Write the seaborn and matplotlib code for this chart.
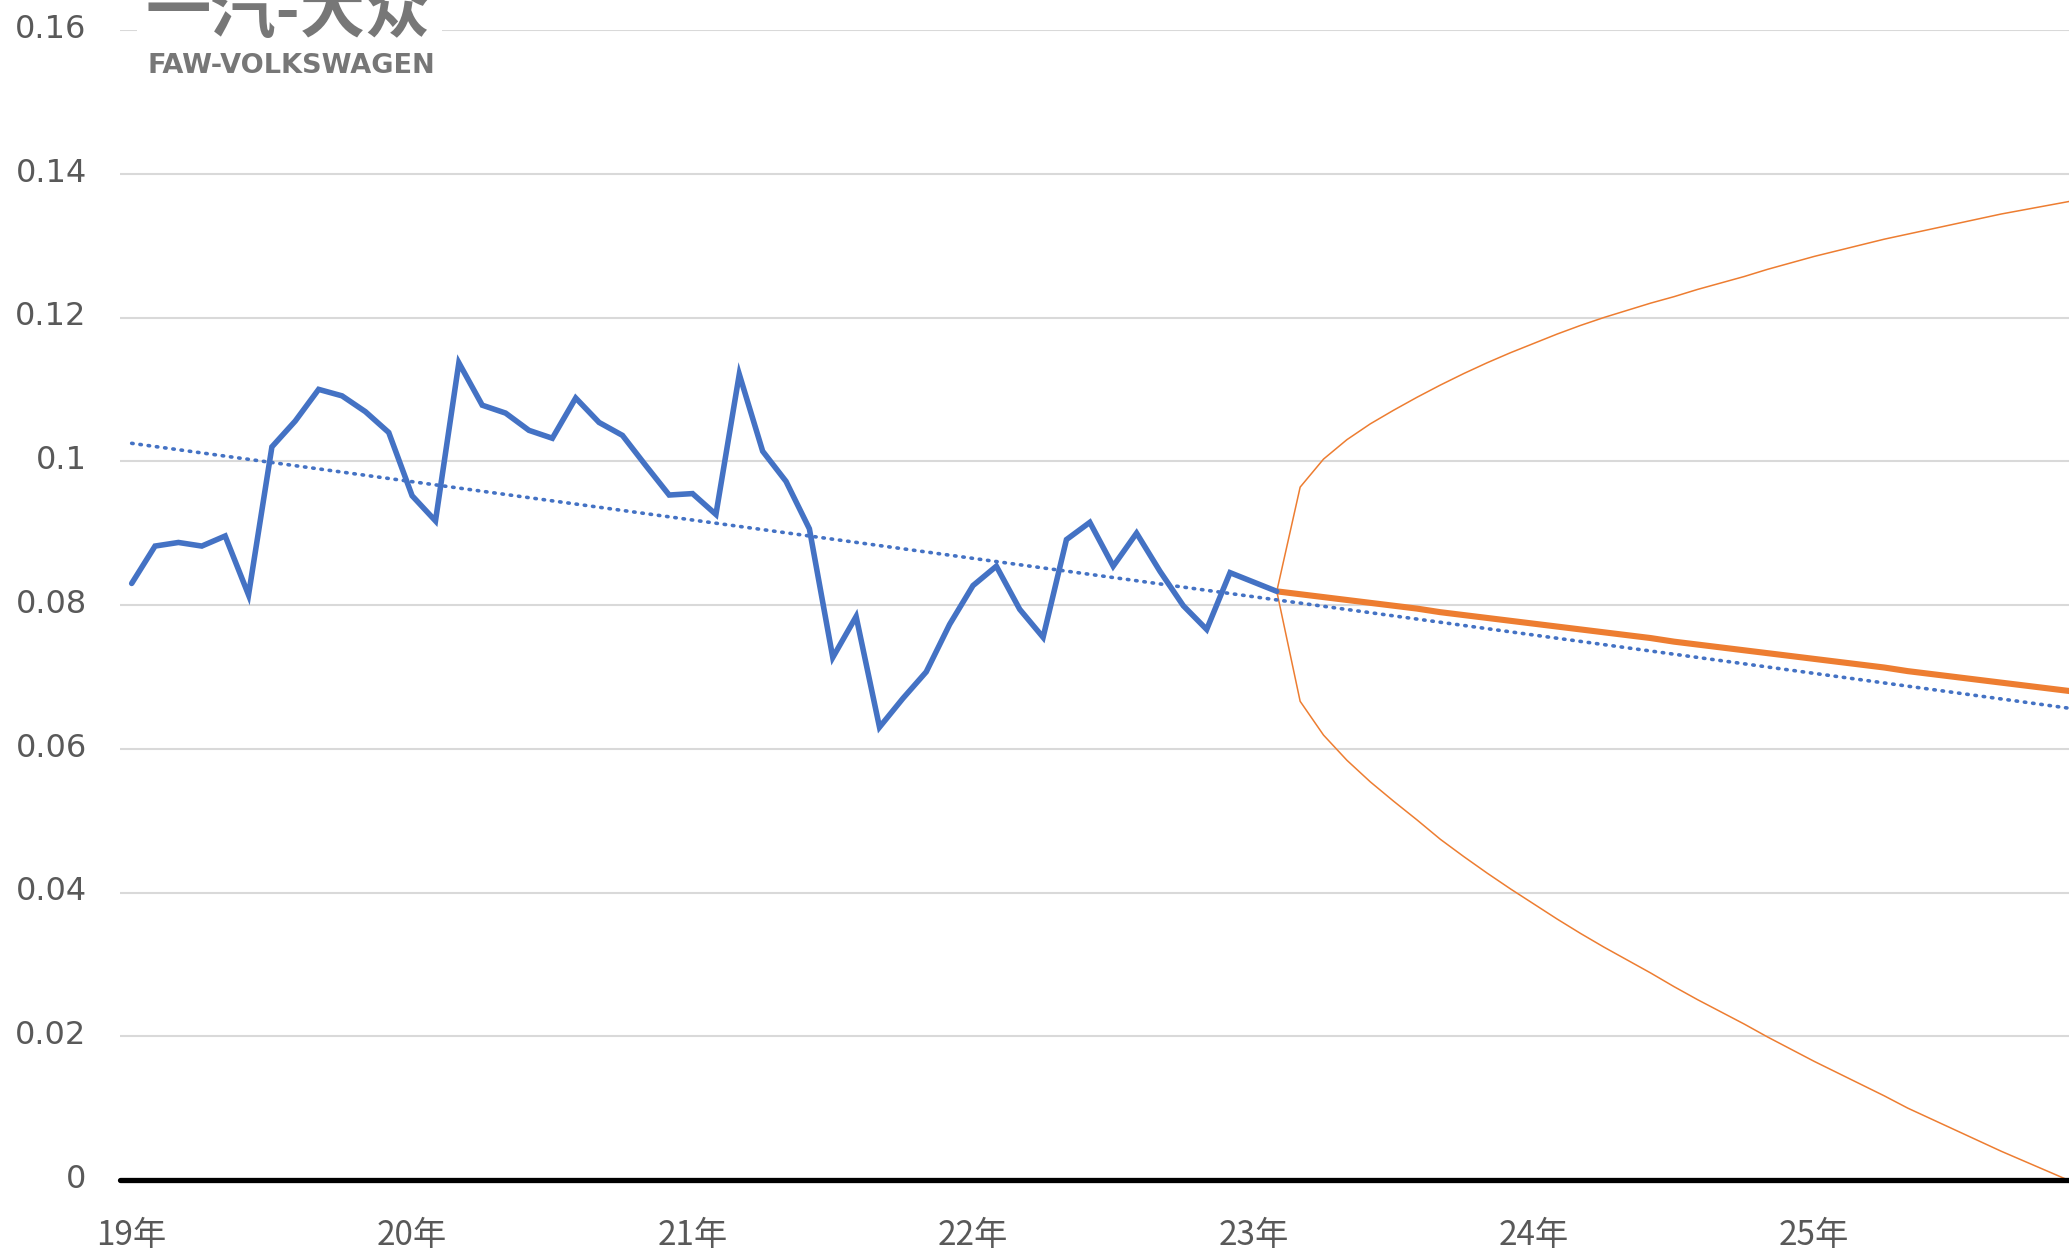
import numpy as np
import pandas as pd
import seaborn as sns
import matplotlib.pyplot as plt
from matplotlib.patches import Rectangle
from matplotlib.transforms import ScaledTranslation

# monthly values, Jan 2019 .. Feb 2023
actual = [0.0830, 0.0882, 0.0887, 0.0882, 0.0896, 0.0814, 0.1020, 0.1056, 0.1100, 0.1091, 0.1069, 0.1040,
          0.0952, 0.0917, 0.1137, 0.1078, 0.1067, 0.1043, 0.1032, 0.1088, 0.1054, 0.1036, 0.0994, 0.0953,
          0.0955, 0.0926, 0.1121, 0.1014, 0.0972, 0.0906, 0.0727, 0.0784, 0.0630, 0.0670, 0.0707, 0.0773,
          0.0827, 0.0854, 0.0794, 0.0755, 0.0891, 0.0915, 0.0854, 0.0900, 0.0847, 0.0799, 0.0766, 0.0845,
          0.0832, 0.0819]

# forecast Feb 2023 .. Dec 2025
forecast = [0.0819, 0.0815, 0.0811, 0.0807, 0.0803, 0.0799, 0.0795, 0.0790, 0.0786, 0.0782, 0.0778, 0.0774,
            0.0770, 0.0766, 0.0762, 0.0758, 0.0754, 0.0749, 0.0745, 0.0741, 0.0737, 0.0733, 0.0729, 0.0725,
            0.0721, 0.0717, 0.0713, 0.0708, 0.0704, 0.0700, 0.0696, 0.0692, 0.0688, 0.0684, 0.0680]
upper = [0.0819, 0.0964, 0.1003, 0.1030, 0.1052, 0.1071, 0.1089, 0.1106, 0.1122, 0.1137, 0.1151, 0.1164,
         0.1177, 0.1189, 0.1200, 0.1210, 0.1220, 0.1229, 0.1239, 0.1248, 0.1257, 0.1267, 0.1276, 0.1285,
         0.1293, 0.1301, 0.1309, 0.1316, 0.1323, 0.1330, 0.1337, 0.1344, 0.1350, 0.1356, 0.1362]
lower = [0.0819, 0.0666, 0.0619, 0.0584, 0.0554, 0.0527, 0.0501, 0.0474, 0.0450, 0.0427, 0.0405, 0.0384,
         0.0363, 0.0343, 0.0324, 0.0306, 0.0288, 0.0269, 0.0251, 0.0234, 0.0217, 0.0199, 0.0182, 0.0165,
         0.0149, 0.0133, 0.0117, 0.0100, 0.0085, 0.0070, 0.0055, 0.0040, 0.0026, 0.0012, -0.0002]

year_labels = ['19年', '20年', '21年', '22年', '23年', '24年', '25年']
y_ticks = [0, 0.02, 0.04, 0.06, 0.08, 0.1, 0.12, 0.14, 0.16]
y_labels = ['0', '0.02', '0.04', '0.06', '0.08', '0.1', '0.12', '0.14', '0.16']

blue = '#4472C4'
orange = '#ED7D31'
grey = '#595959'

sns.set_theme(style='white')
plt.rcParams['font.family'] = ['DejaVu Sans', 'Noto Sans CJK SC']

hist = pd.DataFrame({'m': np.arange(len(actual)), 'v': actual})
fc = pd.DataFrame({'m': np.arange(len(actual) - 1, len(actual) - 1 + len(forecast)),
                   'f': forecast, 'up': upper, 'lo': lower})

fig = plt.figure(figsize=(20.69, 12.52), dpi=100)
ax = fig.add_axes([120 / 2069, 1 - 1180 / 1252, 1 - 120 / 2069, 1150 / 1252])

# linear trend of the history, extended forward
coef = np.polyfit(hist['m'], hist['v'], 1)
tx = np.arange(0, fc['m'].max() + 1)
sns.lineplot(x=tx, y=np.polyval(coef, tx), ax=ax, color=blue, lw=2.6,
             linestyle=(0, (0.4, 1.9)), dash_capstyle='round', zorder=4)

sns.lineplot(data=fc, x='m', y='up', ax=ax, color=orange, lw=1.1, zorder=3)
sns.lineplot(data=fc, x='m', y='lo', ax=ax, color=orange, lw=1.1, zorder=3)
sns.lineplot(data=fc, x='m', y='f', ax=ax, color=orange, lw=4.4, zorder=3,
             solid_capstyle='butt')
sns.lineplot(data=hist, x='m', y='v', ax=ax, color=blue, lw=4.0, zorder=3,
             solid_joinstyle='miter')

ax.axhline(0, color='black', lw=3.8, clip_on=False, zorder=5)

ax.set_xlim(-0.5, 82.9)
ax.set_ylim(0, 0.16)
ax.set_xticks(np.arange(len(year_labels)) * 12)
ax.set_xticklabels(year_labels, family=['Noto Sans CJK SC'], fontsize=24, color=grey)
ax.set_yticks(y_ticks)
ax.set_yticklabels(y_labels, fontsize=23, color=grey)
ax.tick_params(axis='x', length=0, pad=27)
ax.tick_params(axis='y', length=0, pad=24)
ax.grid(axis='y', color='#d9d9d9', lw=1.5)
ax.grid(axis='x', visible=False)
ax.set_xlabel('')
ax.set_ylabel('')
sns.despine(ax=ax, left=True, bottom=True)

# value labels sit a little above their gridline
shift = ScaledTranslation(0, 3 / 72, fig.dpi_scale_trans)
for lab in ax.get_yticklabels():
    lab.set_transform(lab.get_transform() + shift)

# logo watermark in the top-left corner (partly cut off at the top, as in the source)
fig.patches.append(Rectangle((137 / 2069, 1 - 85 / 1252), 305 / 2069, 85 / 1252,
                             transform=fig.transFigure, facecolor='white',
                             edgecolor='none', zorder=6))
fig.text(146 / 2069, 1 - 32 / 1252, '一汽-大众', family=['Noto Sans CJK SC'],
         fontsize=47, fontweight='bold', color='#777777', va='baseline', zorder=7)
fig.text(148 / 2069, 1 - 73 / 1252, 'FAW-VOLKSWAGEN', fontsize=19.5,
         fontweight='bold', color='#777777', va='baseline', zorder=7)

plt.savefig('out.png', dpi=100)
